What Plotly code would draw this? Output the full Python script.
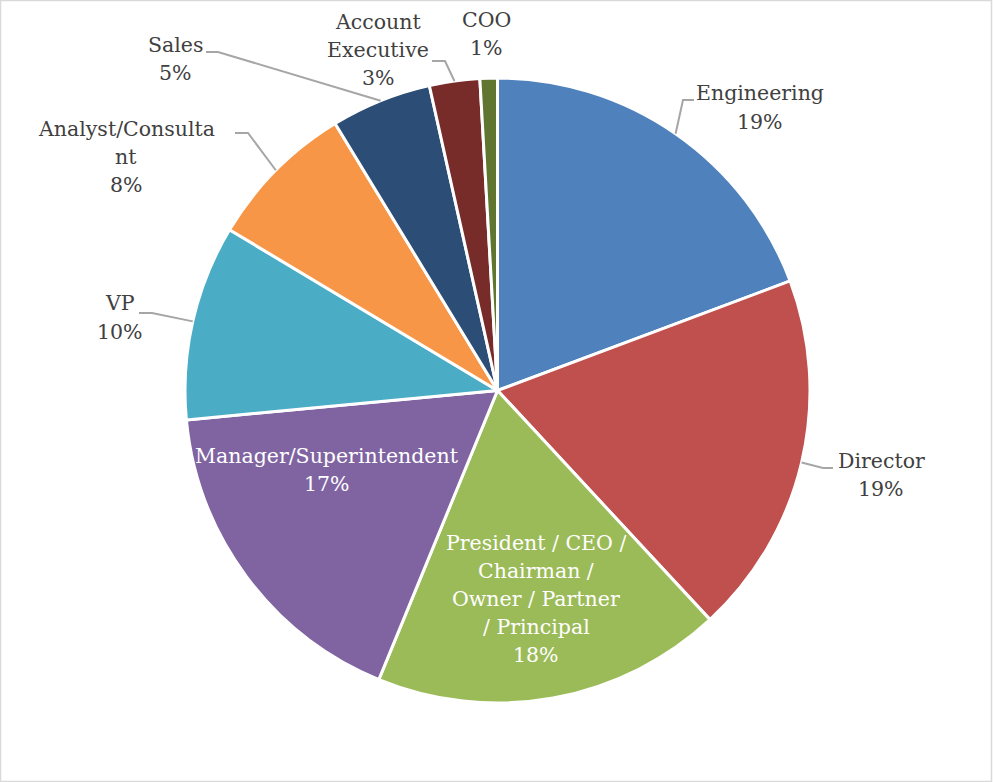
import math
import plotly.graph_objects as go

# ---- data ----
categories = ["Engineering", "Director",
              "President / CEO /<br>Chairman /<br>Owner / Partner<br>/ Principal",
              "Manager/Superintendent", "VP", "Analyst/Consulta<br>nt", "Sales",
              "Account<br>Executive", "COO"]
shares = [19.3, 18.8, 18.1, 17.3, 10.1, 7.7, 5.2, 2.6, 0.9]
colors = ["#4F81BD", "#C0504D", "#9BBB59", "#8064A2", "#4BACC6",
          "#F79646", "#2C4D75", "#772C2A", "#5F7530"]

# ---- label layout (pixel positions of text block centres, leader elbows/ends) ----
W, H = 994, 782
CX, CY, R = 497.5, 390.5, 312.5
LINE_H = 28
label_pos = [(760, 107.5), (881, 475), (536, 599), (327, 470), (120, 317.5),
             (126, 157), (175, 59), (378, 50), (486, 34)]
inside = [False, False, True, True, False, False, False, False, False]
leader = [((683, 100), (694, 100)), ((823, 468), (833, 468)), None, None,
          ((152, 313), (139, 313)), ((248, 133), (235, 133)),
          ((218, 52), (206, 52)), ((445, 61), (432, 61)), None]

def px(x):
    return x / W

def py(y):
    return 1 - y / H

fig = go.Figure(go.Pie(
    labels=[c.replace("<br>", " ") for c in categories], values=shares,
    sort=False, direction="clockwise", rotation=0,
    marker=dict(colors=colors, line=dict(color="white", width=3)),
    textinfo="none", hoverinfo="label+percent", showlegend=False,
    domain=dict(x=[px(CX - R), px(CX + R)], y=[py(CY + R), py(CY - R)]),
))

total = sum(shares)
annotations = []
shapes = []
cum = 0.0
for i, (cat, v) in enumerate(zip(categories, shares)):
    mid = (cum + v / 2) / total * 2 * math.pi
    cum += v
    pct = round(v / total * 100)
    lx, ly = label_pos[i]
    lines = cat.split("<br>") + [f"{pct}%"]
    n = len(lines)
    for k, line in enumerate(lines):
        yk = ly + (k - (n - 1) / 2) * LINE_H
        annotations.append(dict(
            x=px(lx), y=py(yk), xref="paper", yref="paper",
            text=line, showarrow=False,
            xanchor="center", yanchor="middle", align="center",
            font=dict(family="DejaVu Serif", size=20.5,
                      color="white" if inside[i] else "#404040"),
        ))
    if leader[i] is not None:
        sx = CX + R * math.sin(mid)
        sy = CY - R * math.cos(mid)
        (ex, ey), (fx, fy) = leader[i]
        shapes.append(dict(
            type="path", xref="paper", yref="paper",
            path=f"M {px(sx)} {py(sy)} L {px(ex)} {py(ey)} L {px(fx)} {py(fy)}",
            line=dict(color="#A6A6A6", width=2),
        ))

shapes.append(dict(type="rect", xref="paper", yref="paper",
                   x0=px(0.5), x1=px(991.5), y0=py(781.5), y1=py(0.5),
                   line=dict(color="#D9D9D9", width=1.5)))

fig.update_layout(
    width=W, height=H, margin=dict(l=0, r=0, t=0, b=0),
    paper_bgcolor="white", plot_bgcolor="white",
    annotations=annotations, shapes=shapes,
)
fig.write_html("out.html")
